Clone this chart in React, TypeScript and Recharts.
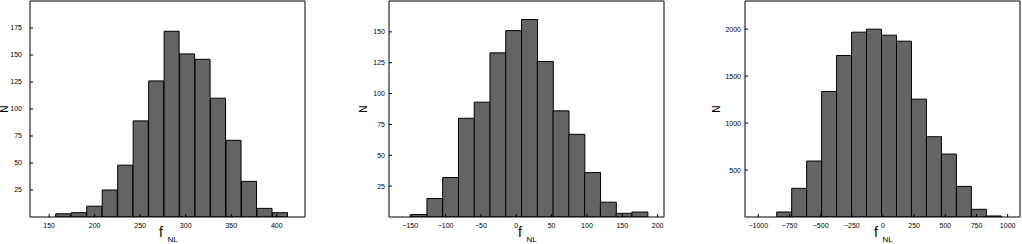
import { Bar, BarChart, XAxis, YAxis } from 'recharts';

// MATLAB-style histograms of f_NL, three runs side by side.
const FONT = '"Liberation Sans", Arial, Helvetica, sans-serif';
const FILL = '#646464';
const INK = '#000';

// Panel A
const binsA = [165.8, 182.8, 199.8, 216.8, 233.8, 250.8, 267.8, 284.8, 301.8, 318.8, 335.8, 352.8, 369.8, 386.8, 403.8];
const countsA = [3, 4, 10, 25, 48, 89, 126, 172, 151, 146, 110, 71, 33, 8, 4];
const xTicksA = [150, 200, 250, 300, 350, 400];
const yTicksA = [25, 50, 75, 100, 125, 150, 175];
const xDomainA: [number, number] = [129, 431];
const yDomainA: [number, number] = [0, 200];

// Panel B
const binsB = [-137.5, -115.2, -92.9, -70.6, -48.3, -26.0, -3.7, 18.6, 40.9, 63.2, 85.5, 107.8, 130.1, 152.4, 174.7];
const countsB = [2, 15, 32, 80, 93, 133, 151, 160, 126, 86, 67, 36, 12, 3, 4];
const xTicksB = [-150, -100, -50, 0, 50, 100, 150, 200];
const yTicksB = [25, 50, 75, 100, 125, 150];
const xDomainB: [number, number] = [-180, 209];
const yDomainB: [number, number] = [0, 175];

// Panel C
const binsC = [-792.6, -672.5, -552.4, -432.3, -312.2, -192.1, -72.0, 48.1, 168.2, 288.3, 408.4, 528.5, 648.6, 768.7, 888.8];
const countsC = [53, 305, 596, 1337, 1720, 1968, 2000, 1936, 1872, 1255, 855, 670, 326, 82, 11];
const xTicksC = [-1000, -750, -500, -250, 0, 250, 500, 750, 1000];
const yTicksC = [500, 1000, 1500, 2000];
const xDomainC: [number, number] = [-1107, 1099];
const yDomainC: [number, number] = [0, 2300];

const fmt = (v: number) => String(v).replace('-', '\u2212');

const tickStyle = { fontSize: 7, fill: INK, fontFamily: FONT };

type HistProps = {
  left: number;
  width: number;
  yAxisWidth: number;
  right: number;
  yTickMargin: number;
  nOffset: number;
  bins: number[];
  counts: number[];
  xTicks: number[];
  yTicks: number[];
  xDomain: [number, number];
  yDomain: [number, number];
};

function Histogram(p: HistProps) {
  const data = p.bins.map((x, i) => ({ x, n: p.counts[i] }));

  const fLabel = (props: any) => {
    const vb = props.viewBox;
    const cx = vb.x + vb.width / 2;
    return (
      <text x={cx - 8.5} y={vb.y + 20} fontFamily={FONT} fill={INK}>
        <tspan fontSize={14}>f</tspan>
        <tspan fontSize={8} dx={4.6} dy={4.5}>
          NL
        </tspan>
      </text>
    );
  };

  const nLabel = (props: any) => {
    const vb = props.viewBox;
    const cx = vb.x + vb.width - p.nOffset;
    const cy = vb.y + vb.height / 2;
    return (
      <text
        x={cx}
        y={cy}
        transform={`rotate(-90, ${cx}, ${cy})`}
        textAnchor="middle"
        dominantBaseline="central"
        fontSize={10}
        fontFamily={FONT}
        fill={INK}
      >
        N
      </text>
    );
  };

  return (
    <div style={{ position: 'absolute', left: p.left, top: 0 }}>
      <BarChart
        width={p.width}
        height={244}
        data={data}
        margin={{ top: 0, right: p.right - 1, bottom: 0, left: 0 }}
        barCategoryGap={0}
        barGap={0}
      >
        <XAxis
          xAxisId="b"
          dataKey="x"
          type="number"
          domain={p.xDomain}
          ticks={p.xTicks}
          allowDataOverflow
          interval={0}
          height={27}
          stroke={INK}
          tickSize={-3}
          tickMargin={9}
          tick={tickStyle}
          tickFormatter={fmt}
          label={fLabel}
        />
        <XAxis
          xAxisId="t"
          orientation="top"
          dataKey="x"
          type="number"
          domain={p.xDomain}
          ticks={p.xTicks}
          allowDataOverflow
          interval={0}
          height={1}
          stroke={INK}
          tickSize={-3}
          tick={false}
        />
        <YAxis
          yAxisId="l"
          type="number"
          domain={p.yDomain}
          ticks={p.yTicks}
          allowDataOverflow
          interval={0}
          width={p.yAxisWidth}
          stroke={INK}
          tickSize={-3}
          tickMargin={p.yTickMargin}
          tick={tickStyle}
          label={nLabel}
        />
        <YAxis
          yAxisId="r"
          orientation="right"
          type="number"
          domain={p.yDomain}
          ticks={p.yTicks}
          allowDataOverflow
          interval={0}
          width={1}
          stroke={INK}
          tickSize={-3}
          tick={false}
        />
        <Bar
          xAxisId="b"
          yAxisId="l"
          dataKey="n"
          fill={FILL}
          stroke={INK}
          strokeWidth={1}
          isAnimationActive={false}
        />
      </BarChart>
    </div>
  );
}

export default function App() {
  return (
    <div style={{ position: 'absolute', left: 0, top: 0, width: 1022, height: 244, background: '#fff' }}>
      <Histogram
        left={0}
        width={320}
        yAxisWidth={30}
        right={15}
        yTickMargin={11}
        nOffset={26}
        bins={binsA}
        counts={countsA}
        xTicks={xTicksA}
        yTicks={yTicksA}
        xDomain={xDomainA}
        yDomain={yDomainA}
      />
      <Histogram
        left={340}
        width={340}
        yAxisWidth={49}
        right={16}
        yTickMargin={7}
        nOffset={26}
        bins={binsB}
        counts={countsB}
        xTicks={xTicksB}
        yTicks={yTicksB}
        xDomain={xDomainB}
        yDomain={yDomainB}
      />
      <Histogram
        left={690}
        width={332}
        yAxisWidth={55}
        right={2}
        yTickMargin={7}
        nOffset={29}
        bins={binsC}
        counts={countsC}
        xTicks={xTicksC}
        yTicks={yTicksC}
        xDomain={xDomainC}
        yDomain={yDomainC}
      />
    </div>
  );
}
